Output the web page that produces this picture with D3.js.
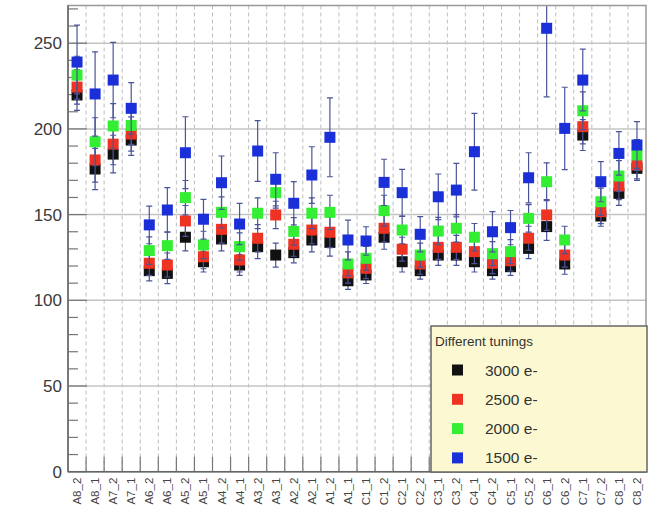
<!DOCTYPE html>
<html>
<head>
<meta charset="utf-8">
<script src="https://cdn.jsdelivr.net/npm/d3@7"></script>
<style>
  body { margin: 0; background: #fff; }
  svg { font-family: "Liberation Sans", Arial, sans-serif; }
</style>
</head>
<body>
<svg id="chart" width="656" height="523"></svg>
<script>
const categories = ["A8_2","A8_1","A7_2","A7_1","A6_2","A6_1","A5_2","A5_1","A4_2","A4_1",
  "A3_2","A3_1","A2_2","A2_1","A1_2","A1_1","C1_1","C1_2","C2_1","C2_2","C3_1","C3_2",
  "C4_1","C4_2","C5_1","C5_2","C6_1","C6_2","C7_1","C7_2","C8_1","C8_2"];

const seriesNames = ["3000 e-", "2500 e-", "2000 e-", "1500 e-"];
const seriesColors = ["#111111", "#ee3322", "#33ee33", "#1a2fd8"];

const v3000 = [219.8,176.6,185.3,193.5,117.3,115.7,136.8,122.5,135.8,120.6,131.3,126.4,127.8,135.2,133.8,111.4,
  114.8,136.8,122.5,117.3,126.4,126.4,122.5,117.3,119.6,130.3,143.0,121.2,196.4,149.2,162.4,177.0];
const v2500 = [224.4,181.9,191.1,197.0,121.6,120.6,146.3,125.4,141.4,123.5,136.2,149.8,132.7,141.0,139.7,116.0,
  118.7,142.0,129.8,121.2,130.9,130.9,128.4,121.6,123.1,136.2,149.8,126.4,201.3,151.7,166.7,178.9];
const v2000 = [231.4,192.5,201.7,202.0,129.0,131.9,159.9,132.3,151.3,131.3,150.8,162.8,140.2,150.8,151.3,121.2,
  124.5,152.3,141.0,126.4,140.4,142.0,136.8,127.2,128.4,147.8,169.2,135.2,210.6,157.5,172.5,184.8];
const v1500 = [239.0,220.4,228.5,212.0,144.0,152.7,186.1,147.3,168.6,144.5,187.1,170.6,156.6,173.1,195.1,135.2,
  134.6,168.8,162.8,138.5,160.4,164.3,186.7,140.0,142.4,171.5,258.7,200.3,228.5,169.2,185.7,190.6];

const e3000 = [9,12,11,9,6,6,8,6,7,6,7,7,6,7,8,5,5,7,6,5,6,6,6,5,5,6,8,6,9,6,7,7];
const e2500 = [10,13,12,10,7,7,9,7,8,7,8,8,7,8,9,6,6,8,7,6,7,7,7,6,6,7,9,7,10,7,8,8];
const e2000 = [11,14,13,11,8,8,10,8,9,8,9,9,8,9,10,7,7,9,8,7,8,8,8,7,7,8,11,8,11,8,9,9];
const e1500 = [21.6,24.6,22,15,11,13,21,11.6,15.6,12,17.7,15.5,12.6,16.5,23,11.6,
  8.3,13.5,13.6,10.3,13.3,15.6,22.4,11.7,10,14.6,40,24,18,11.7,12.7,13.6];

const yTicks = [0, 50, 100, 150, 200, 250];

const values = [v3000, v2500, v2000, v1500];
const errors = [e3000, e2500, e2000, e1500];

const plotLeft = 68, plotRight = 646, plotTop = 5.5, plotBottom = 471.7;
const svg = d3.select("#chart");

const x = d3.scaleBand().domain(categories).range([plotLeft, plotRight]).padding(0);
const y = d3.scaleLinear().domain([0, 272]).range([plotBottom, plotTop]);

svg.append("defs").append("clipPath").attr("id", "plotclip")
  .append("rect").attr("x", plotLeft).attr("y", plotTop)
  .attr("width", plotRight - plotLeft).attr("height", plotBottom - plotTop);

// grid
const edges = categories.map(c => x(c)).slice(1);
svg.append("g").selectAll("line").data(edges).enter().append("line")
  .attr("x1", d => d).attr("x2", d => d).attr("y1", plotTop).attr("y2", plotBottom)
  .attr("stroke", "#bdbdbd").attr("stroke-dasharray", "4,3");
svg.append("g").selectAll("line").data(yTicks.slice(1)).enter().append("line")
  .attr("x1", plotLeft).attr("x2", plotRight).attr("y1", d => y(d)).attr("y2", d => y(d))
  .attr("stroke", "#c4c4c4").attr("stroke-width", 1.5);

// y ticks (major + minor, drawn inward)
const minor = d3.range(0, 271, 10);
svg.append("g").selectAll("line").data(minor).enter().append("line")
  .attr("x1", plotLeft).attr("x2", d => plotLeft + (d % 50 === 0 ? 19 : 10))
  .attr("y1", d => y(d)).attr("y2", d => y(d))
  .attr("stroke", "#777").attr("stroke-width", 1.2);
svg.append("g").selectAll("text").data(yTicks).enter().append("text")
  .attr("x", plotLeft - 6).attr("y", d => y(d) + 6)
  .attr("text-anchor", "end").attr("font-size", 17).attr("fill", "#3a3a3a")
  .text(d => d);

// x ticks (inward at bin edges)
svg.append("g").selectAll("line").data(edges).enter().append("line")
  .attr("x1", d => d).attr("x2", d => d).attr("y1", plotBottom).attr("y2", plotBottom - 15)
  .attr("stroke", "#777").attr("stroke-width", 1.2);
svg.append("g").selectAll("text").data(categories).enter().append("text")
  .attr("transform", d => `translate(${x(d) + x.bandwidth() / 2 + 4},${plotBottom + 6}) rotate(-90)`)
  .attr("text-anchor", "end").attr("font-size", 11.5).attr("fill", "#444")
  .text(d => d);

// data: error bars then markers, series by series
const plot = svg.append("g").attr("clip-path", "url(#plotclip)");
values.forEach((vals, s) => {
  const g = plot.append("g");
  const cx = i => x(categories[i]) + x.bandwidth() / 2;
  const pts = vals.map((v, i) => ({i, v, e: errors[s][i]}));
  g.selectAll("line.bar").data(pts).enter().append("line")
    .attr("x1", d => cx(d.i)).attr("x2", d => cx(d.i))
    .attr("y1", d => y(d.v + d.e)).attr("y2", d => y(d.v - d.e))
    .attr("stroke", "#4a5599").attr("stroke-width", 1.2);
  [1, -1].forEach(sg => {
    g.selectAll(null).data(pts).enter().append("line")
      .attr("x1", d => cx(d.i) - 3).attr("x2", d => cx(d.i) + 3)
      .attr("y1", d => y(d.v + sg * d.e)).attr("y2", d => y(d.v + sg * d.e))
      .attr("stroke", "#4a5599").attr("stroke-width", 1.2);
  });
  g.selectAll("rect").data(pts).enter().append("rect")
    .attr("x", d => cx(d.i) - 5.5).attr("y", d => y(d.v) - 5.5)
    .attr("width", 11).attr("height", 11)
    .attr("fill", seriesColors[s]);
});

// frame
svg.append("rect").attr("x", plotLeft).attr("y", plotTop)
  .attr("width", plotRight - plotLeft).attr("height", plotBottom - plotTop)
  .attr("fill", "none").attr("stroke", "#999").attr("stroke-width", 1.5);
svg.append("line").attr("x1", plotLeft).attr("x2", plotLeft).attr("y1", plotTop).attr("y2", plotBottom)
  .attr("stroke", "#666").attr("stroke-width", 1.5);
svg.append("line").attr("x1", plotLeft).attr("x2", plotRight).attr("y1", plotBottom).attr("y2", plotBottom)
  .attr("stroke", "#666").attr("stroke-width", 1.5);

// legend
const lg = svg.append("g");
lg.append("rect").attr("x", 431).attr("y", 326).attr("width", 216).attr("height", 146)
  .attr("fill", "#fcf9d2").attr("stroke", "#666").attr("stroke-width", 1.5);
lg.append("text").attr("x", 435).attr("y", 346).attr("font-size", 13.5).attr("fill", "#333")
  .text("Different tunings");
seriesNames.forEach((name, s) => {
  const ly = 370 + s * 29.3;
  lg.append("rect").attr("x", 452).attr("y", ly - 5.5).attr("width", 11).attr("height", 11)
    .attr("fill", seriesColors[s]);
  lg.append("text").attr("x", 485).attr("y", ly + 5.5).attr("font-size", 15.5).attr("fill", "#333")
    .text(name);
});
</script>
</body>
</html>
